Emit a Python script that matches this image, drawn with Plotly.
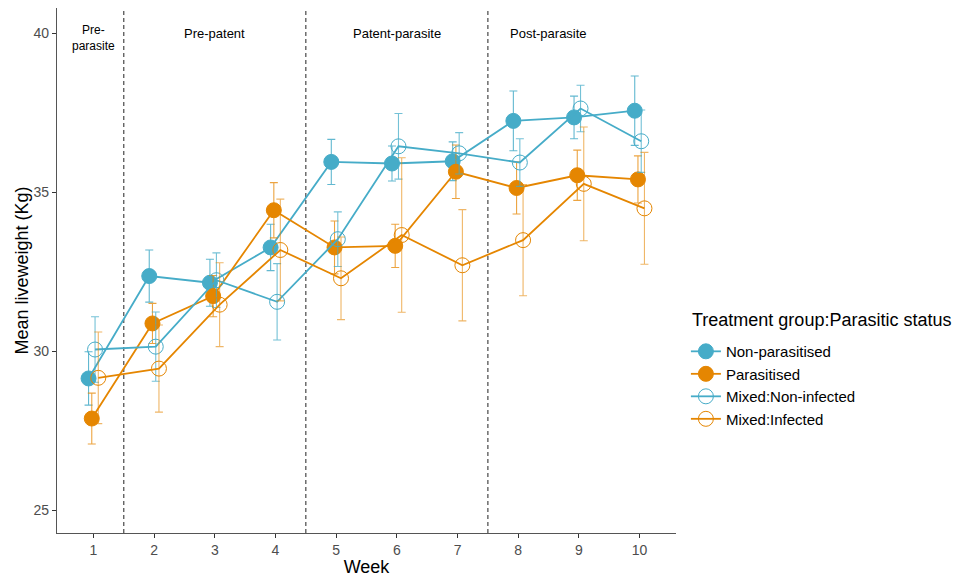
import plotly.graph_objects as go

# Weekly mean liveweight (Kg) and standard error for each group
weeks = [1, 2, 3, 4, 5, 6, 7, 8, 9, 10]

non_parasitised_mean = [29.14, 32.36, 32.15, 33.26, 35.95, 35.90, 35.97, 37.24, 37.35, 37.56]
non_parasitised_se = [0.84, 0.82, 0.74, 0.73, 0.71, 0.55, 0.61, 0.94, 0.67, 1.09]

parasitised_mean = [27.88, 30.87, 31.73, 34.43, 33.26, 33.31, 35.64, 35.13, 35.53, 35.40]
parasitised_se = [0.80, 0.63, 0.65, 0.87, 0.83, 0.68, 0.84, 0.82, 0.79, 0.74]

mixed_noninf_mean = [30.05, 30.14, 32.23, 31.55, 33.52, 36.44, 36.22, 35.93, 37.63, 36.60]
mixed_noninf_se = [1.03, 1.09, 0.86, 1.20, 0.86, 1.03, 0.65, 0.75, 0.73, 0.98]

mixed_inf_mean = [29.16, 29.45, 31.46, 33.18, 32.29, 33.65, 32.70, 33.49, 35.26, 34.49]
mixed_inf_se = [1.44, 1.37, 1.32, 1.60, 1.30, 2.43, 1.75, 1.75, 1.79, 1.76]

group_names = ["Non-parasitised", "Parasitised", "Mixed:Non-infected", "Mixed:Infected"]
legend_title = "Treatment group:Parasitic status"

# Study phases: boundaries between weeks and label positions
phase_breaks = [1.5, 4.5, 7.5]
phase_labels = ["Pre-<br>parasite", "Pre-patent", "Patent-parasite", "Post-parasite"]
phase_label_x = [1, 3, 6, 8.5]

BLUE = "#46ACC8"
ORANGE = "#E58601"
FONT = "Liberation Sans, Arial, sans-serif"

series = [
    (group_names[0], non_parasitised_mean, non_parasitised_se, BLUE, "circle", -0.08, "rgba(70,172,200,0.85)"),
    (group_names[1], parasitised_mean, parasitised_se, ORANGE, "circle", -0.027, "rgba(229,134,1,0.75)"),
    (group_names[2], mixed_noninf_mean, mixed_noninf_se, BLUE, "circle-open", 0.027, "rgba(70,172,200,0.75)"),
    (group_names[3], mixed_inf_mean, mixed_inf_se, ORANGE, "circle-open", 0.08, "rgba(229,134,1,0.6)"),
]

fig = go.Figure()

for name, mean, se, color, symbol, offset, err_color in series:
    fig.add_trace(go.Scatter(
        x=[w + offset for w in weeks],
        y=mean,
        name=name,
        mode="lines+markers",
        line=dict(color=color, width=1.8),
        marker=dict(symbol=symbol, size=15, color=color,
                    line=dict(color=color, width=1)),
        error_y=dict(type="data", array=se, visible=True,
                     color=err_color, thickness=1.1, width=4),
    ))

shapes = []
for b in phase_breaks:
    shapes.append(dict(type="line", xref="x", yref="paper", x0=b, x1=b, y0=0, y1=1,
                       line=dict(color="#555555", width=1.3, dash="4px,3px"),
                       layer="below"))

annotations = []
for lbl, xp in zip(phase_labels, phase_label_x):
    two_line = "<br>" in lbl
    annotations.append(dict(x=xp, y=39.85 if two_line else 40, xref="x", yref="y",
                            text=lbl, showarrow=False,
                            font=dict(family=FONT, size=12 if two_line else 13, color="black"),
                            xanchor="center", yanchor="middle"))

# Legend heading drawn as text above the legend entries
annotations.append(dict(x=1.0228, y=0.4057, xref="paper", yref="paper",
                        text=legend_title, showarrow=False,
                        font=dict(family=FONT, size=18, color="black"),
                        xanchor="left", yanchor="middle"))

fig.update_layout(
    width=978, height=578,
    margin=dict(l=57, r=302, t=8, b=45),
    plot_bgcolor="white", paper_bgcolor="white",
    font=dict(family=FONT, color="black"),
    shapes=shapes,
    annotations=annotations,
    showlegend=True,
    legend=dict(
        font=dict(family=FONT, size=15, color="black"),
        x=1.016, xanchor="left", y=0.377, yanchor="top",
        bgcolor="rgba(0,0,0,0)", tracegroupgap=0,
    ),
    xaxis=dict(
        range=[0.4, 10.6], tickmode="array", tickvals=weeks,
        ticktext=[str(w) for w in weeks],
        showline=True, linecolor="#555555", linewidth=1.3,
        ticks="outside", ticklen=4, tickcolor="#333333",
        tickfont=dict(family=FONT, size=14, color="#4D4D4D"),
        showgrid=False, zeroline=False, automargin=False,
        title=dict(text="Week", font=dict(family=FONT, size=18, color="black"), standoff=3),
    ),
    yaxis=dict(
        range=[24.28, 40.79], tickvals=[25, 30, 35, 40],
        showline=True, linecolor="#555555", linewidth=1.3,
        ticks="outside", ticklen=4, tickcolor="#333333",
        tickfont=dict(family=FONT, size=14, color="#4D4D4D"),
        showgrid=False, zeroline=False, automargin=False,
        title=dict(text="Mean liveweight (Kg)", font=dict(family=FONT, size=18, color="black"), standoff=0),
    ),
)

fig.write_html("out.html")
